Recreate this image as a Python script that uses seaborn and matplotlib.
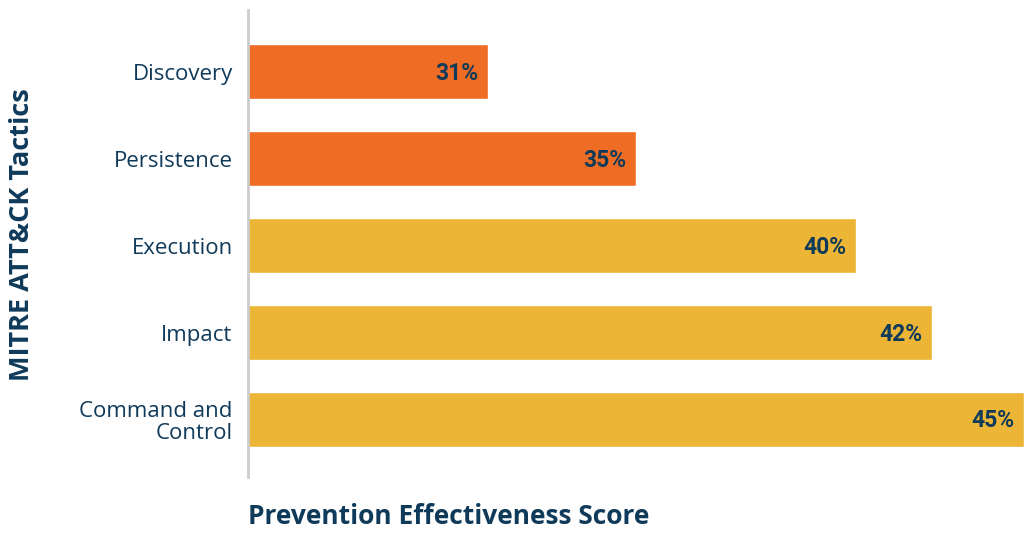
import matplotlib
matplotlib.use("Agg")
import matplotlib.pyplot as plt
import seaborn as sns
import pandas as pd

categories = ["Discovery", "Persistence", "Execution", "Impact", "Command and\nControl"]
scores = [31.2, 34.9, 40.4, 42.3, 44.6]
bar_colors = ["#EE6C24", "#EE6C24", "#ECB535", "#ECB535", "#ECB535"]

NAVY = "#0F3A5A"

sns.set_theme(style="white")
plt.rcParams["font.family"] = ["Open Sans", "DejaVu Sans"]

df = pd.DataFrame({"tactic": categories, "score": scores})

fig = plt.figure(figsize=(10.24, 5.33), dpi=100)
ax = fig.add_axes([248/1024, 1 - 477/533, 1 - 248/1024, 467/533])

sns.barplot(data=df, y="tactic", x="score", hue="tactic", palette=bar_colors,
            legend=False, width=0.63, ax=ax, orient="h", saturation=1)

ax.set_xlim(25.2, 44.6)
ax.set_ylim(4.66, -0.71)

for i, v in enumerate(scores):
    ax.annotate(f"{round(v)}%", xy=(v, i), xytext=(-7, -1), textcoords="offset points",
                ha="right", va="center", fontsize=16.5, fontweight="bold",
                color=NAVY, family=["Roboto", "DejaVu Sans"])

ax.set_xticks([])
ax.set_xlabel("")
ax.set_ylabel("")
ax.tick_params(axis="y", length=0, pad=11, labelsize=16, labelcolor=NAVY)
for lab in ax.get_yticklabels():
    lab.set_horizontalalignment("right")
    lab.set_multialignment("right")
    lab.set_linespacing(1.05)

for s in ["top", "right", "bottom"]:
    ax.spines[s].set_visible(False)
ax.spines["left"].set_color("#CCCCCC")
ax.spines["left"].set_linewidth(2)

fig.text(248/1024, 1 - 517/533, "Prevention Effectiveness Score", ha="left", va="center",
         fontsize=19, fontweight="bold", color=NAVY)
fig.text(22/1024, 1 - 235/533, "MITRE ATT&CK Tactics", ha="center", va="center",
         rotation=90, fontsize=19.5, fontweight="bold", color=NAVY)

fig.savefig("out.png", dpi=100)
